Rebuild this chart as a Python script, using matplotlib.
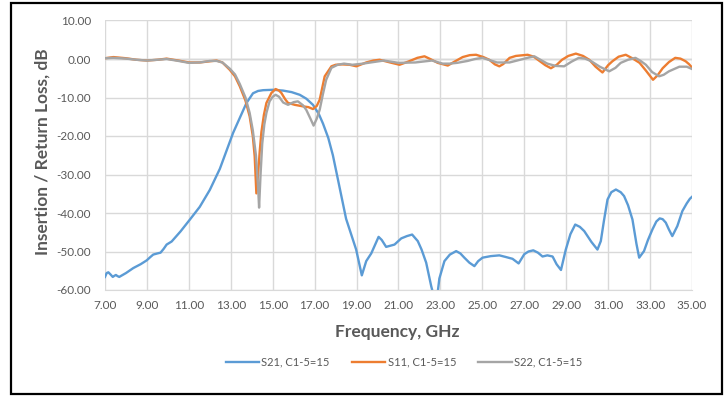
import matplotlib
matplotlib.use("Agg")
import matplotlib.pyplot as plt
from matplotlib.patches import Rectangle

# S21 insertion loss
s21_f = [7.0, 7.08, 7.16, 7.27, 7.37, 7.45, 7.52, 7.6, 7.68, 8.0, 8.35, 8.7, 8.99, 9.15,
         9.3, 9.5, 9.65, 9.8, 9.94, 10.18, 10.6, 11.05, 11.52, 12.0, 12.48, 13.11, 13.75,
         14.06, 14.3, 14.54, 15.0, 15.49, 15.9, 16.29, 16.6, 16.92, 17.2, 17.4, 17.65,
         17.87, 18.1, 18.5, 18.98, 19.25, 19.46, 19.7, 20.05, 20.2, 20.41, 20.81, 21.13,
         21.4, 21.65, 21.92, 22.1, 22.32, 22.56, 22.7, 22.85, 22.95, 23.19, 23.45, 23.75,
         23.95, 24.14, 24.38, 24.62, 24.8, 25.01, 25.4, 25.81, 26.1, 26.44, 26.73, 27.0,
         27.2, 27.43, 27.65, 27.87, 28.1, 28.35, 28.54, 28.75, 28.98, 29.2, 29.43, 29.65,
         29.86, 30.2, 30.49, 30.65, 30.8, 30.97, 31.15, 31.37, 31.6, 31.76, 31.95, 32.16,
         32.35, 32.48, 32.71, 32.9, 33.11, 33.3, 33.46, 33.6, 33.75, 33.9, 34.06, 34.3,
         34.54, 34.75, 34.9, 35.0]
s21_db = [-56.6, -55.6, -55.4, -56.0, -56.6, -56.3, -56.1, -56.4, -56.6, -55.6, -54.3,
          -53.3, -52.3, -51.5, -50.8, -50.5, -50.3, -49.3, -48.2, -47.4, -44.8, -41.7,
          -38.4, -34.0, -28.5, -19.2, -11.4, -8.9, -8.3, -8.1, -8.0, -8.2, -8.6, -9.3,
          -10.3, -11.9, -14.3, -16.8, -20.5, -25.0, -31.0, -41.5, -49.5, -56.2, -52.5,
          -50.5, -46.2, -47.0, -48.8, -48.2, -46.6, -46.0, -45.6, -47.3, -49.5, -52.9,
          -59.0, -62.0, -61.5, -57.0, -52.5, -50.8, -49.9, -50.5, -51.6, -52.9, -53.8,
          -52.5, -51.6, -51.2, -51.0, -51.4, -51.9, -53.1, -50.7, -50.0, -49.7, -50.3,
          -51.3, -51.0, -51.3, -53.3, -54.8, -49.5, -45.5, -43.0, -43.6, -44.7, -47.5,
          -49.5, -47.3, -42.0, -36.5, -34.6, -33.9, -34.6, -35.6, -38.0, -41.7, -48.0,
          -51.6, -49.9, -47.0, -44.3, -42.2, -41.4, -41.6, -42.5, -44.3, -46.0, -43.4,
          -39.5, -37.5, -36.3, -35.8]

# S11 return loss
s11_f = [7.0, 7.4, 8.0, 8.5, 9.0, 9.5, 9.94, 10.5, 11.0, 11.52, 12.0, 12.32, 12.6, 12.95,
         13.2, 13.43, 13.7, 13.9, 14.05, 14.14, 14.22, 14.3, 14.38, 14.46, 14.58, 14.7,
         14.94, 15.14, 15.3, 15.41, 15.6, 15.73, 16.05, 16.44, 16.7, 16.92, 17.1, 17.24,
         17.48, 17.8, 18.0, 18.3, 18.67, 18.99, 19.46, 19.8, 20.1, 20.6, 21.05, 21.5,
         21.9, 22.24, 22.55, 22.87, 23.35, 23.7, 24.06, 24.4, 24.7, 25.05, 25.33, 25.6,
         25.81, 26.0, 26.3, 26.6, 27.16, 27.45, 27.7, 28.0, 28.27, 28.55, 28.8, 29.1,
         29.46, 29.8, 30.1, 30.4, 30.73, 31.0, 31.2, 31.5, 31.84, 32.15, 32.5, 32.8,
         33.14, 33.35, 33.6, 33.9, 34.2, 34.45, 34.7, 34.85, 35.0]
s11_db = [0.2, 0.5, 0.2, -0.2, -0.4, -0.2, 0.1, -0.4, -0.9, -0.9, -0.6, -0.4, -0.9, -2.8,
          -4.5, -7.1, -10.8, -14.9, -20.0, -25.3, -34.9, -30.0, -24.0, -19.0, -14.5,
          -11.4, -8.8, -7.8, -8.2, -8.8, -10.5, -11.4, -11.9, -12.3, -12.5, -13.0, -12.2,
          -10.6, -4.5, -1.9, -1.5, -1.4, -1.5, -1.9, -0.9, -0.4, -0.2, -0.9, -1.5, -0.6,
          0.3, 0.7, -0.1, -1.0, -1.7, -0.6, 0.5, 1.0, 1.1, 0.5, -0.2, -1.4,
          -1.9, -1.3, 0.3, 0.8, 1.1, 0.6, -0.4, -1.6, -2.4, -1.5, -0.2, 0.8,
          1.4, 0.8, -0.2, -2.0, -3.5, -1.6, -0.6, 0.6, 1.1, 0.2, -1.0, -3.0,
          -5.4, -4.3, -2.4, -0.8, 0.3, 0.1, -0.6, -1.3, -2.2]

# S22 return loss
s22_f = [7.0, 7.4, 8.0, 8.5, 9.0, 9.5, 9.94, 10.5, 11.0, 11.52, 12.0, 12.32, 12.6, 12.95,
         13.2, 13.43, 13.7, 13.9, 14.05, 14.2, 14.3, 14.35, 14.42, 14.5, 14.6, 14.7,
         14.85, 15.0, 15.14, 15.3, 15.5, 15.73, 16.0, 16.2, 16.44, 16.6, 16.8, 16.95,
         17.1, 17.24, 17.4, 17.55, 17.8, 18.1, 18.4, 18.8, 19.3, 20.3, 21.0, 21.8, 22.6,
         23.1, 23.45, 23.8, 24.3, 24.65, 25.0, 25.35, 25.7, 26.3, 26.8, 27.15, 27.48,
         27.8, 28.1, 28.5, 28.9, 29.25, 29.6, 29.9, 30.2, 30.6, 31.05, 31.35, 31.6,
         31.95, 32.3, 32.55, 32.8, 33.1, 33.43, 33.65, 33.9, 34.15, 34.4, 34.75, 35.0]
s22_db = [0.2, 0.3, 0.1, -0.2, -0.4, -0.2, 0.0, -0.5, -1.0, -0.9, -0.5, -0.5, -0.9, -2.5,
          -4.0, -6.5, -10.0, -14.0, -18.5, -25.0, -33.0, -38.6, -30.0, -22.0, -17.0,
          -14.0, -11.0, -9.8, -9.3, -9.8, -11.3, -11.9, -11.2, -11.0, -12.0, -13.2,
          -15.5, -17.3, -15.5, -13.2, -9.0, -5.4, -2.3, -1.5, -1.2, -1.5, -1.2, -0.4,
          -1.0, -0.9, -0.4, -1.2, -1.2, -1.0, -0.5, 0.0, 0.3, -0.3, -0.9, -0.9, -0.2,
          0.3, 0.7, -0.3, -1.2, -1.8, -1.9, -0.7, 0.3, 0.1, -0.6, -2.0, -3.2, -2.3,
          -1.0, -0.2, 0.3, -0.5, -1.5, -3.4, -4.5, -4.1, -3.2, -2.6, -2.0, -2.0, -2.6]

x_ticks = [7, 9, 11, 13, 15, 17, 19, 21, 23, 25, 27, 29, 31, 33, 35]
y_ticks = [-60, -50, -40, -30, -20, -10, 0, 10]

plt.rcParams['font.family'] = ['Lato', 'DejaVu Sans']
txt = '#595959'

fig = plt.figure(figsize=(7.27, 3.96), dpi=100, facecolor='w')
ax = fig.add_axes([105 / 727, 106 / 396, 587 / 727, 269.5 / 396])

ax.plot(s21_f, s21_db, color='#5B9BD5', lw=1.7, label='S21, C1-5=15')
ax.plot(s11_f, s11_db, color='#ED7D31', lw=1.7, label='S11, C1-5=15')
ax.plot(s22_f, s22_db, color='#A5A5A5', lw=1.7, label='S22, C1-5=15')

ax.set_xlim(7, 35)
ax.set_ylim(-60, 10)
ax.set_xticks(x_ticks)
ax.set_yticks(y_ticks)
ax.set_xticklabels(['%.2f' % v for v in x_ticks])
ax.set_yticklabels(['%.2f' % v for v in y_ticks])
ax.tick_params(length=0, labelsize=8.5, labelcolor=txt)
ax.tick_params(axis='y', pad=10)
ax.tick_params(axis='x', pad=7)
ax.grid(True, color='#D9D9D9', lw=1)
ax.set_axisbelow(True)
for s in ['top', 'right', 'left']:
    ax.spines[s].set_visible(False)
ax.spines['bottom'].set_color('#D9D9D9')
ax.axhline(0, color='#BFBFBF', lw=1, zorder=0.5)

fig.text(43 / 727, 1 - 152 / 396, 'Insertion / Return Loss, dB', rotation=90,
         ha='center', va='center', fontsize=12.5, fontweight='bold', color=txt)
fig.text(397 / 727, 1 - 332 / 396, 'Frequency, GHz', ha='center', va='center',
         fontsize=12.5, fontweight='bold', color=txt)

ax.legend(loc='center', bbox_to_anchor=(404 / 727, 1 - 362 / 396),
          bbox_transform=fig.transFigure, ncol=3, frameon=False, fontsize=8,
          labelcolor=txt, handlelength=3, handletextpad=0.2, columnspacing=2)

fig.patches.append(Rectangle((11 / 727, 2 / 396), 711 / 727, 391 / 396,
                             transform=fig.transFigure, fill=False,
                             edgecolor='black', lw=1.6))

fig.savefig('out.png', dpi=100, facecolor='w')
